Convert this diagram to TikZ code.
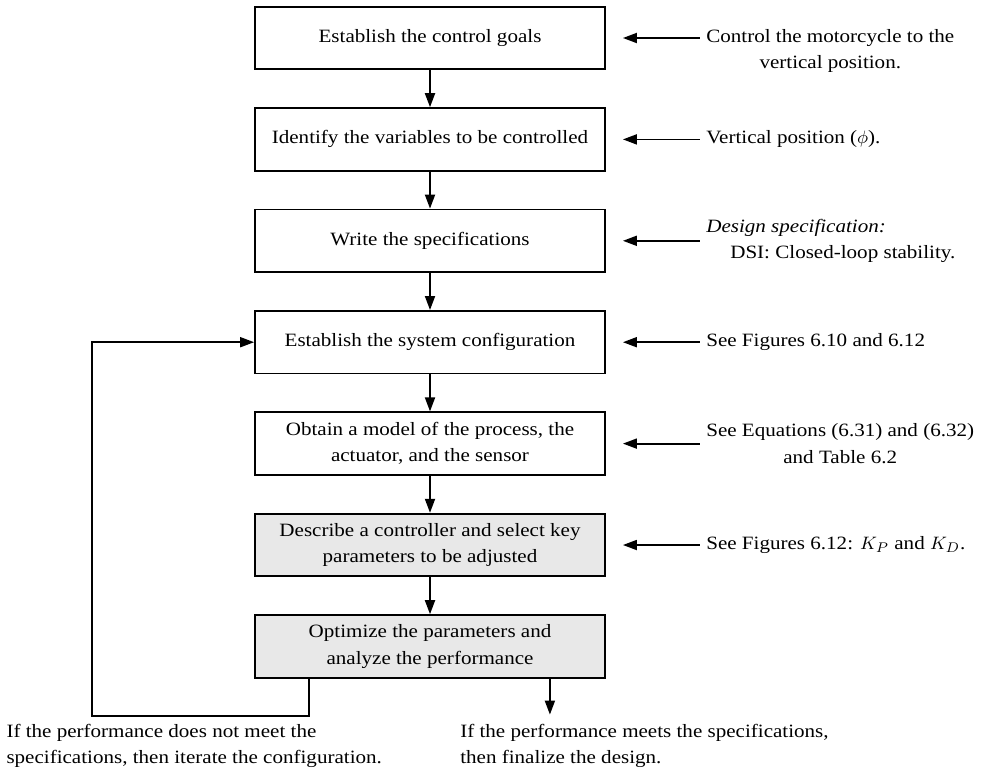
\documentclass[tikz,border=0pt]{standalone}
\usepackage{fontspec}
\setmainfont{Liberation Serif}[FakeStretch=1.12]
\usetikzlibrary{arrows.meta,positioning,calc}
\newcommand{\stepfont}{\fontsize{9.4}{13.2}\selectfont}
\tikzset{
  >={Triangle[length=7pt,width=5pt]},
  stepbox/.style={draw, line width=0.9pt, minimum width=175pt, minimum height=31.3pt, align=center, inner sep=2pt, font=\stepfont},
  stepgray/.style={stepbox, fill=black!9},
  note/.style={font=\stepfont, inner sep=3pt},
  flow/.style={->, line width=0.9pt},
}

\begin{document}
\begin{tikzpicture}[x=0.5pt, y=-0.5pt, node distance=18.5pt and 47pt]
  \useasboundingbox (0,0) rectangle (983,772);

  \node[stepbox] (s1) at (430,38) {Establish the control goals};
  \node[stepbox, below=of s1] (s2) {Identify the variables to be controlled};
  \node[stepbox, below=of s2] (s3) {Write the specifications};
  \node[stepbox, below=of s3] (s4) {Establish the system configuration};
  \node[stepbox, below=of s4] (s5) {Obtain a model of the process, the\\actuator, and the sensor};
  \node[stepgray, below=of s5] (s6) {Describe a controller and select key\\parameters to be adjusted};
  \node[stepgray, below=of s6] (s7) {Optimize the parameters and\\analyze the performance};

  \node[note, align=center, right=of s1, yshift=-6.6pt] (n1) {Control the motorcycle to the\\vertical position.};
  \node[note, right=of s2] (n2) {Vertical position ($\phi$).};
  \node[note, align=left, right=of s3] (n3) {\textit{Design specification:}\\\hspace*{12pt}DSI: Closed-loop stability.};
  \node[note, right=of s4] (n4) {See Figures 6.10 and 6.12};
  \node[note, align=center, right=of s5] (n5) {See Equations (6.31) and (6.32)\\and Table 6.2};
  \node[note, right=of s6] (n6) {See Figures 6.12: $K_P$ and $K_D$.};

  \foreach \a/\b in {s1/s2,s2/s3,s3/s4,s4/s5,s5/s6,s6/s7}{
    \draw[flow] (\a) -- (\b);
  }
  \foreach \i in {1,...,6}{
    \draw[flow] (n\i.west |- s\i.east) -- ([xshift=8.5pt]s\i.east);
  }

  % iterate back or finish
  \coordinate (back) at ([xshift=-81pt,yshift=-18.5pt]s7.south west);
  \coordinate (done) at ([xshift=-28pt,yshift=-18pt]s7.south east);
  \draw[flow] ([xshift=27.5pt]s7.south west) |- (back) |- (s4.west);
  \draw[flow] (s7.south -| done) -- (done);

  \node[note, align=left, anchor=north west] (iter) at ([xshift=-46pt,yshift=-1pt]back)
    {If the performance does not meet the\\specifications, then iterate the configuration.};
  \node[note, align=left, anchor=north west] (final) at ([xshift=-48pt,yshift=-1.5pt]done)
    {If the performance meets the specifications,\\then finalize the design.};
\end{tikzpicture}
\end{document}
